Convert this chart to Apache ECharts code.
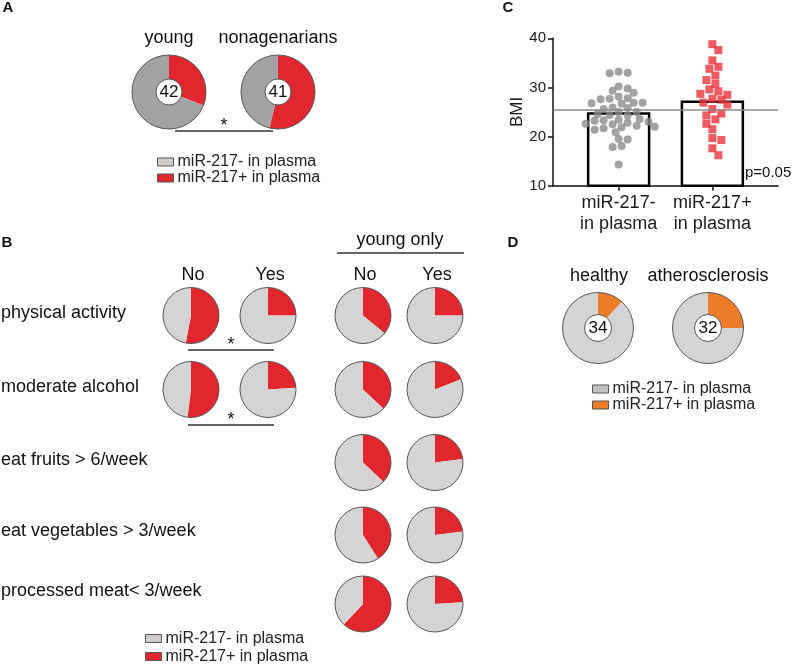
<!DOCTYPE html>
<html><head><meta charset="utf-8">
<script src="https://cdn.jsdelivr.net/npm/echarts@6/dist/echarts.min.js"></script>
<style>html,body{margin:0;padding:0;background:#fff}#c{width:800px;height:667px}</style>
</head><body><div id="c"></div>
<script>
const FONT = '"Liberation Sans", Arial, Helvetica, sans-serif';

// ---------- DATA ----------
const legendNames = ['miR-217- in plasma', 'miR-217+ in plasma'];

// Panel A: counts
const aGroups = ['young', 'nonagenarians'];
const aTotal = [42, 41];
const aPositive = [13, 22];

// Panel B: % miR-217+ per cell
const bRows = ['physical activity', 'moderate alcohol', 'eat fruits > 6/week', 'eat vegetables > 3/week', 'processed meat< 3/week'];
const bColumnLabels = ['No', 'Yes', 'No', 'Yes'];
const bGroupLabel = 'young only';
const bAllNo = [53, 52, null, null, null];
const bAllYes = [25, 24, null, null, null];
const bYoungNo = [36, 37, 37, 41, 62];
const bYoungYes = [25, 19, 23, 23, 24];

// Panel C: BMI
const cCategories = ['miR-217-\nin plasma', 'miR-217+\nin plasma'];
const cNegative = [33.0, 32.9, 33.2, 30.2, 29.8, 29.3, 28.9, 28.1, 27.8, 27.7, 27.6, 26.9, 26.9, 26.8, 26.7,
  25.9, 25.8, 25.6, 25.0, 25.0, 24.6, 24.4, 24.3, 23.6, 23.4, 23.3, 23.2, 23.0, 22.8, 22.5, 22.6, 22.2, 22.0,
  21.9, 21.7, 21.4, 20.9, 19.5, 19.4, 18.1, 17.9, 14.3];
const cPositive = [38.8, 37.6, 35.5, 33.8, 34.2, 32.4, 31.5, 30.7, 29.6, 29.2, 28.7, 28.5, 27.7, 27.5, 26.9,
  26.5, 25.6, 24.7, 24.3, 23.5, 22.6, 21.5, 19.7, 19.3, 17.6, 16.2];
const cMeans = [24.7, 27.1];
const cReference = 25.4;
const cYMin = 10, cYMax = 40, cYStep = 10;
const cPValue = 'p=0.05';

// Panel D: counts
const dGroups = ['healthy', 'atherosclerosis'];
const dTotal = [34, 32];
const dPositive = [4, 8];

// ---------- STYLE / LAYOUT ----------
const RED = '#e2262e', ORANGE = '#ee7d2b', GRAY_A = '#a3a3a5', GRAY = '#d4d4d4', OUTLINE = '#555';
const aCenters = [[169, 92], [278, 92]];
const dCenters = [[598, 328], [708, 328]];
const bColX = [191, 268, 363, 435];
const bRowY = [315.5, 389.5, 462.5, 535, 604];
const bLabelY = [313, 387, 460, 531, 591];
const cGrid = {left: 553, top: 38.3, width: 225, height: 147.4};
const cXMin = 0.3, cXMax = 2.7, cBarHalf = 0.325;

const series = [];

function pieSlices(pos, neg, posColor, negColor) {
  return [
    {name: legendNames[1], value: pos, itemStyle: {color: posColor}},
    {name: legendNames[0], value: neg, itemStyle: {color: negColor}}
  ];
}
function addPie(center, radius, pos, neg, posColor, negColor, centerText) {
  series.push({
    type: 'pie', center: center, radius: radius, startAngle: 90, clockwise: true,
    silent: true, animation: false, label: {show: false}, labelLine: {show: false},
    data: pieSlices(pos, neg, posColor, negColor)
  });
  series.push({
    type: 'pie', center: center, radius: radius, silent: true, animation: false,
    labelLine: {show: false},
    label: centerText != null ? {show: true, position: 'center', formatter: String(centerText),
      fontSize: 17, color: '#111', fontFamily: FONT} : {show: false},
    itemStyle: {color: 'rgba(0,0,0,0)', borderColor: OUTLINE, borderWidth: 1},
    data: [{value: 1, name: 'outline'}]
  });
}

// Panel A pies
aGroups.forEach((g, i) => addPie(aCenters[i], [13, 37], aPositive[i], aTotal[i] - aPositive[i], RED, GRAY_A, aTotal[i]));
// Panel B pies
const bCols = [bAllNo, bAllYes, bYoungNo, bYoungYes];
bRows.forEach((r, ri) => {
  bCols.forEach((col, ci) => {
    if (col[ri] == null) return;
    addPie([bColX[ci], bRowY[ri]], [0, 28], col[ri], 100 - col[ri], RED, GRAY, null);
  });
});
// Panel D pies
dGroups.forEach((g, i) => addPie(dCenters[i], [13.5, 35.5], dPositive[i], dTotal[i] - dPositive[i], ORANGE, GRAY, dTotal[i]));

// Panel C: bars + swarm
const pxX = cGrid.width / (cXMax - cXMin), pxY = cGrid.height / (cYMax - cYMin);
function swarm(values, center, diam, step) {
  const order = values.map((v, i) => i).sort((a, b) => values[b] - values[a]);
  const placed = [], out = new Array(values.length);
  for (const i of order) {
    const y = values[i] * pxY;
    let off = 0;
    for (let n = 0; n < 400; n++) {
      off = n === 0 ? 0 : (n % 2 === 1 ? 1 : -1) * Math.ceil(n / 2) * step;
      if (placed.every(p => Math.hypot(p[0] - off, p[1] - y) >= diam)) break;
    }
    placed.push([off, y]);
    out[i] = [center + off / pxX, values[i]];
  }
  return out;
}
series.push({
  type: 'custom', xAxisIndex: 0, yAxisIndex: 0, silent: true, animation: false,
  data: cMeans.map((m, i) => [i + 1, m]),
  renderItem: (params, api) => {
    const x = api.value(0), m = api.value(1);
    const p1 = api.coord([x - cBarHalf, m]);
    const p2 = api.coord([x + cBarHalf, cYMin]);
    return {type: 'rect', shape: {x: p1[0], y: p1[1], width: p2[0] - p1[0], height: p2[1] - p1[1]},
      style: {fill: '#fff', stroke: '#000', lineWidth: 2.5}};
  }
});
series.push({
  type: 'scatter', xAxisIndex: 0, yAxisIndex: 0, silent: true, animation: false,
  symbol: 'circle', symbolSize: 8, itemStyle: {color: '#8b8b8b'},
  data: swarm(cNegative, 1, 7.3, 3)
});
series.push({
  type: 'scatter', xAxisIndex: 0, yAxisIndex: 0, silent: true, animation: false,
  symbol: 'rect', symbolSize: 8, itemStyle: {color: '#e8323c'},
  data: swarm(cPositive, 2, 7.6, 3),
  markLine: {silent: true, symbol: 'none', animation: false, label: {show: false},
    lineStyle: {color: '#8a8a8a', width: 1.5, type: 'solid'}, data: [{yAxis: cReference}]}
});

// ---------- TEXT / ANNOTATIONS ----------
function txt(x, y, s, size, opts) {
  return Object.assign({type: 'text', x: x, y: y, silent: true,
    style: Object.assign({text: s, fill: '#111', fontSize: size, fontFamily: FONT, align: 'center', verticalAlign: 'middle'}, opts || {})});
}
function ln(x1, y1, x2, y2) {
  return {type: 'line', silent: true, shape: {x1, y1, x2, y2}, style: {stroke: '#333', lineWidth: 1.5}};
}
const graphics = [
  txt(8, 8, 'A', 15, {fontWeight: 'bold'}),
  txt(7, 243, 'B', 15, {fontWeight: 'bold'}),
  txt(508, 8, 'C', 15, {fontWeight: 'bold'}),
  txt(513, 243, 'D', 15, {fontWeight: 'bold'}),
  txt(aCenters[0][0], 38, aGroups[0], 18),
  txt(aCenters[1][0], 38, aGroups[1], 18),
  ln(175, 131, 273, 131), txt(224, 126, '*', 18),
  txt(400, 240, bGroupLabel, 18), ln(337, 253, 464, 253),
  ln(188, 350, 274, 350), txt(231, 345, '*', 18),
  ln(188, 425, 274, 425), txt(231, 420, '*', 18),
  txt(dCenters[0][0] + 1, 276, dGroups[0], 18),
  txt(dCenters[1][0], 276, dGroups[1], 18),
  txt(745, 173, cPValue, 15, {align: 'left'})
];
bColumnLabels.forEach((l, i) => graphics.push(txt(bColX[i] + 2, 275, l, 18)));
bRows.forEach((r, i) => graphics.push(txt(1, bLabelY[i], r, 18, {align: 'left'})));

function legend(left, top, lh, posColor, negColor) {
  return {
    orient: 'vertical', left: left, top: top, padding: 0, itemGap: 0, itemWidth: 16, itemHeight: 8,
    icon: 'rect', selectedMode: false,
    itemStyle: {borderColor: OUTLINE, borderWidth: 1},
    textStyle: {fontSize: 16, lineHeight: lh, color: '#222', fontFamily: FONT, padding: [0, 0, 0, -1]},
    data: [{name: legendNames[0], itemStyle: {color: negColor}}, {name: legendNames[1], itemStyle: {color: posColor}}]
  };
}

const chart = echarts.init(document.getElementById('c'), null, {renderer: 'canvas'});
chart.setOption({
  animation: false,
  backgroundColor: '#fff',
  textStyle: {fontFamily: FONT},
  legend: [
    legend(157, 154, 15.5, RED, '#cfccc9'),
    legend(145, 629.5, 18, RED, '#cfccc9'),
    legend(592, 381, 15.5, ORANGE, '#c2c2c2')
  ],
  grid: [Object.assign({}, cGrid)],
  xAxis: [{
    type: 'value', gridIndex: 0, min: cXMin, max: cXMax,
    axisLine: {show: true, lineStyle: {color: '#111', width: 1.5}},
    axisTick: {show: true, customValues: [1, 2], length: 5, lineStyle: {color: '#111', width: 1.5}},
    axisLabel: {show: true, customValues: [1, 2], formatter: v => cCategories[Math.round(v) - 1] || '',
      fontSize: 18, lineHeight: 21, margin: 7, color: '#1a1a1a', fontFamily: FONT},
    splitLine: {show: false}
  }],
  yAxis: [{
    type: 'value', gridIndex: 0, min: cYMin, max: cYMax, interval: cYStep,
    name: 'BMI', nameLocation: 'middle', nameGap: 23,
    nameTextStyle: {fontSize: 17, color: '#1a1a1a', fontFamily: FONT},
    axisLine: {show: true, lineStyle: {color: '#111', width: 1.5}},
    axisTick: {show: true, length: 5, lineStyle: {color: '#111', width: 1.5}},
    axisLabel: {fontSize: 15, margin: 7, color: '#1a1a1a', fontFamily: FONT},
    splitLine: {show: false}
  }],
  graphic: graphics,
  series: series
});
</script></body></html>
